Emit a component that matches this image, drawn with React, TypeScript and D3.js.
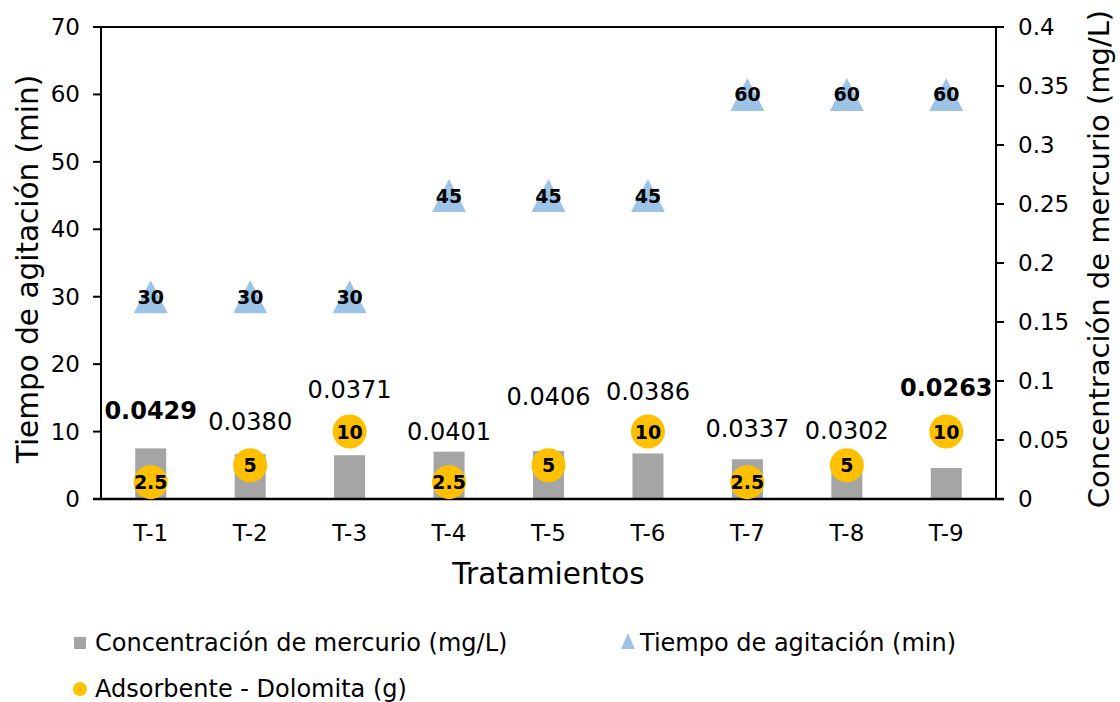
import { useEffect, useRef } from 'react';
import * as d3 from 'd3';

const categories = ['T-1', 'T-2', 'T-3', 'T-4', 'T-5', 'T-6', 'T-7', 'T-8', 'T-9'];
const mercurio = [0.0429, 0.038, 0.0371, 0.0401, 0.0406, 0.0386, 0.0337, 0.0302, 0.0263];
const tiempo = [30, 30, 30, 45, 45, 45, 60, 60, 60];
const dolomita = [2.5, 5, 10, 2.5, 5, 10, 2.5, 5, 10];
// where the concentration labels sit, in mg/L units of the right axis
const mercurioLabelAt = [0.0746, 0.0653, 0.0924, 0.0568, 0.0864, 0.0907, 0.0593, 0.0576, 0.0941];
const leftTicks = [0, 10, 20, 30, 40, 50, 60, 70];
const rightTicks = [0, 0.05, 0.1, 0.15, 0.2, 0.25, 0.3, 0.35, 0.4];

const FONT = 'Verdana, "DejaVu Sans", sans-serif';
const GRAY = '#A5A5A5';
const BLUE = '#9DC3E6';
const GOLD = '#FFC000';

export default function App() {
  const svgRef = useRef<SVGSVGElement>(null);

  useEffect(() => {
    if (!svgRef.current) return;
    document.body.style.margin = '0';

    const width = 1120;
    const height = 702;
    const svg = d3.select(svgRef.current);
    svg.selectAll('*').remove();
    svg.attr('width', width).attr('height', height);

    const margin = { top: 27, right: 124, bottom: 203, left: 101 };
    const x0 = margin.left;
    const x1 = width - margin.right;
    const y0 = height - margin.bottom;
    const y1 = margin.top;

    const xScale = d3.scaleBand<string>().domain(categories).range([x0, x1]).padding(0);
    const yLeft = d3.scaleLinear().domain([0, 70]).range([y0, y1]);
    const yRight = d3.scaleLinear().domain([0, 0.4]).range([y0, y1]);
    const cx = (c: string) => (xScale(c) ?? 0) + xScale.bandwidth() / 2;

    const g = svg.append('g');

    // Bars
    const barW = 31;
    categories.forEach((c, i) => {
      g.append('rect')
        .attr('x', cx(c) - barW / 2)
        .attr('y', yRight(mercurio[i]))
        .attr('width', barW)
        .attr('height', y0 - yRight(mercurio[i]))
        .attr('fill', GRAY);
    });

    // Frame: top, bottom, left, right
    const axisColor = '#000';
    g.append('line').attr('x1', x0 - 8).attr('x2', x1 + 8).attr('y1', y1).attr('y2', y1)
      .attr('stroke', axisColor).attr('stroke-width', 2);
    g.append('line').attr('x1', x0 - 8).attr('x2', x1 + 8).attr('y1', y0).attr('y2', y0)
      .attr('stroke', axisColor).attr('stroke-width', 2.5);
    g.append('line').attr('x1', x0).attr('x2', x0).attr('y1', y1).attr('y2', y0)
      .attr('stroke', axisColor).attr('stroke-width', 2);
    g.append('line').attr('x1', x1).attr('x2', x1).attr('y1', y1).attr('y2', y0)
      .attr('stroke', axisColor).attr('stroke-width', 2);

    // Left ticks
    leftTicks.forEach((t) => {
      g.append('line').attr('x1', x0 - 8).attr('x2', x0).attr('y1', yLeft(t)).attr('y2', yLeft(t))
        .attr('stroke', axisColor).attr('stroke-width', 2);
      g.append('text')
        .attr('x', x0 - 21).attr('y', yLeft(t))
        .attr('text-anchor', 'end').attr('dominant-baseline', 'central')
        .attr('font-family', FONT).attr('font-size', '23px').attr('fill', '#000')
        .text(String(t));
    });

    // Right ticks
    rightTicks.forEach((t) => {
      g.append('line').attr('x1', x1).attr('x2', x1 + 8).attr('y1', yRight(t)).attr('y2', yRight(t))
        .attr('stroke', axisColor).attr('stroke-width', 2);
      g.append('text')
        .attr('x', x1 + 22).attr('y', yRight(t))
        .attr('dominant-baseline', 'central')
        .attr('font-family', FONT).attr('font-size', '23px').attr('fill', '#000')
        .text(String(t));
    });

    // Category labels
    categories.forEach((c) => {
      g.append('text')
        .attr('x', cx(c)).attr('y', y0 + 34)
        .attr('text-anchor', 'middle').attr('dominant-baseline', 'central')
        .attr('font-family', FONT).attr('font-size', '23px').attr('fill', '#000')
        .text(c);
    });

    // Axis titles
    g.append('text')
      .attr('x', (x0 + x1) / 2).attr('y', y0 + 75)
      .attr('text-anchor', 'middle').attr('dominant-baseline', 'central')
      .attr('font-family', FONT).attr('font-size', '29.5px').attr('fill', '#000')
      .text('Tratamientos');
    g.append('text')
      .attr('transform', `translate(28,${(y0 + y1) / 2 + 6}) rotate(-90)`)
      .attr('text-anchor', 'middle').attr('dominant-baseline', 'central')
      .attr('font-family', FONT).attr('font-size', '29.5px').attr('fill', '#000')
      .text('Tiempo de agitación (min)');
    g.append('text')
      .attr('transform', `translate(1099,${(y0 + y1) / 2 - 4}) rotate(-90)`)
      .attr('text-anchor', 'middle').attr('dominant-baseline', 'central')
      .attr('font-family', FONT).attr('font-size', '29px').attr('fill', '#000')
      .text('Concentración de mercurio (mg/L)');

    // Concentration labels
    const maxV = d3.max(mercurio) ?? 0;
    const minV = d3.min(mercurio) ?? 0;
    categories.forEach((c, i) => {
      const v = mercurio[i];
      g.append('text')
        .attr('x', cx(c)).attr('y', yRight(mercurioLabelAt[i]))
        .attr('text-anchor', 'middle').attr('dominant-baseline', 'central')
        .attr('font-family', FONT).attr('font-size', '24px').attr('fill', '#000')
        .attr('font-weight', v === maxV || v === minV ? 700 : 400)
        .text(v.toFixed(4));
    });

    // Triangles (tiempo)
    const triW = 34;
    const triH = 33;
    const tri = (w: number, h: number) => `M0,${-h / 2}L${w / 2},${h / 2}L${-w / 2},${h / 2}Z`;
    categories.forEach((c, i) => {
      g.append('path')
        .attr('transform', `translate(${cx(c)},${yLeft(tiempo[i])})`)
        .attr('d', tri(triW, triH))
        .attr('fill', BLUE);
      g.append('text')
        .attr('x', cx(c)).attr('y', yLeft(tiempo[i]))
        .attr('text-anchor', 'middle').attr('dominant-baseline', 'central')
        .attr('font-family', FONT).attr('font-size', '19px').attr('font-weight', 700)
        .attr('fill', '#000')
        .text(String(tiempo[i]));
    });

    // Circles (dolomita)
    categories.forEach((c, i) => {
      g.append('circle')
        .attr('cx', cx(c)).attr('cy', yLeft(dolomita[i])).attr('r', 17)
        .attr('fill', GOLD);
      g.append('text')
        .attr('x', cx(c)).attr('y', yLeft(dolomita[i]))
        .attr('text-anchor', 'middle').attr('dominant-baseline', 'central')
        .attr('font-family', FONT).attr('font-size', '19px').attr('font-weight', 700)
        .attr('fill', '#000')
        .text(String(dolomita[i]));
    });

    // Legend
    const leg = svg.append('g');
    leg.append('rect').attr('x', 74).attr('y', 637).attr('width', 12).attr('height', 12).attr('fill', GRAY);
    leg.append('text')
      .attr('x', 95).attr('y', 643).attr('dominant-baseline', 'central')
      .attr('font-family', FONT).attr('font-size', '24px').attr('fill', '#000')
      .text('Concentración de mercurio (mg/L)');
    leg.append('path')
      .attr('transform', 'translate(628,641)')
      .attr('d', tri(14, 16))
      .attr('fill', BLUE);
    leg.append('text')
      .attr('x', 640).attr('y', 643).attr('dominant-baseline', 'central')
      .attr('font-family', FONT).attr('font-size', '24px').attr('fill', '#000')
      .text('Tiempo de agitación (min)');
    leg.append('circle').attr('cx', 80).attr('cy', 689).attr('r', 7).attr('fill', GOLD);
    leg.append('text')
      .attr('x', 95).attr('y', 689).attr('dominant-baseline', 'central')
      .attr('font-family', FONT).attr('font-size', '24px').attr('fill', '#000')
      .text('Adsorbente - Dolomita (g)');
  }, []);

  return <svg ref={svgRef} style={{ display: 'block' }} />;
}
